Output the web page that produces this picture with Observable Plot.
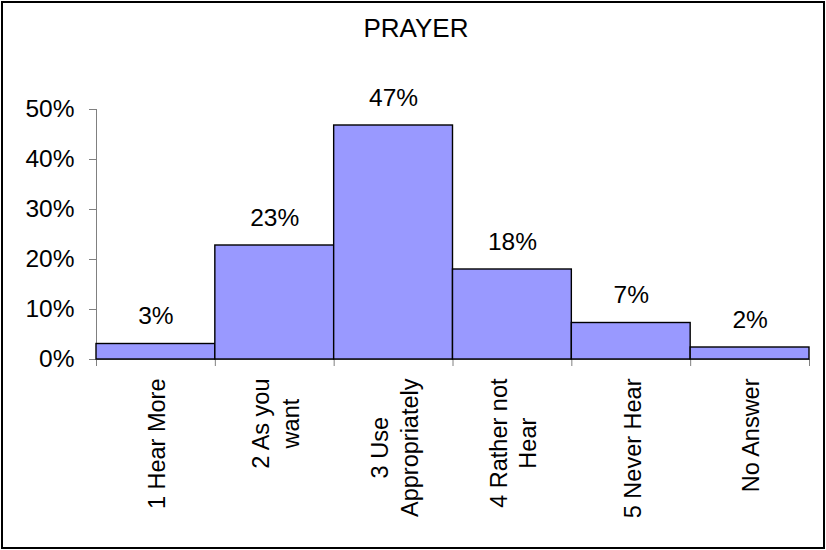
<!DOCTYPE html>
<html><head><meta charset="utf-8">
<script src="https://cdn.jsdelivr.net/npm/d3@7"></script>
<script src="https://cdn.jsdelivr.net/npm/@observablehq/plot@0.6"></script>
<style>
html,body{margin:0;padding:0;background:#fff;}
#wrap{position:relative;width:826px;height:550px;font-family:"Liberation Sans",Arial,sans-serif;overflow:hidden;}
#border{position:absolute;left:1px;top:1px;width:820px;height:544px;border:2px solid #000;pointer-events:none;}
#title{position:absolute;left:0;top:14px;width:832px;text-align:center;font-size:26px;line-height:1.15;color:#000;}
</style></head><body>
<div id="wrap"><div id="chart"></div><div id="title">PRAYER</div><div id="border"></div></div>
<script>
const categories = ["1 Hear More", "2 As you\nwant", "3 Use\nAppropriately", "4 Rather not\nHear", "5 Never Hear", "No Answer"];
const values = [0.031, 0.228, 0.468, 0.180, 0.073, 0.024];
const valueLabels = ["3%", "23%", "47%", "18%", "7%", "2%"];
const yTicks = [0, 0.1, 0.2, 0.3, 0.4, 0.5];
const yTickLabels = ["0%", "10%", "20%", "30%", "40%", "50%"];

const data = categories.map((c, i) => ({i, category: c, value: values[i], label: valueLabels[i]}));
const boundaries = d3.range(categories.length + 1);

const chart = Plot.plot({
  width: 826, height: 550,
  marginLeft: 96, marginRight: 17, marginTop: 109, marginBottom: 191,
  style: {fontFamily: "'Liberation Sans', Arial, sans-serif", fontSize: "24px", background: "transparent", color: "#000"},
  x: {type: "linear", domain: [0, categories.length], label: null},
  y: {domain: [0, 0.5], label: null},
  marks: [
    Plot.axisY({ticks: yTicks, tickFormat: (d) => yTickLabels[yTicks.indexOf(d)], tickSize: 7, tickPadding: 15, stroke: "#808080", fill: "#000", fontSize: 24.5, label: null}),
    Plot.axisX({ticks: boundaries, tickFormat: () => "", tickSize: 7, stroke: "#808080", label: null}),
    Plot.frame({anchor: "left", stroke: "#808080"}),
    Plot.ruleY([0], {stroke: "#808080"}),
    Plot.rectY(data, {x1: "i", x2: (d) => d.i + 1, y: "value", fill: "#9999FF", stroke: "#000", strokeWidth: 1.4}),
    Plot.text(data, {x: (d) => d.i + 0.5, y: "value", text: "label", dy: -20, lineAnchor: "bottom", fontSize: 24.5, fill: "#000"}),
    Plot.text(data, {x: (d) => d.i + 0.5, y: 0, text: "category", rotate: -90, textAnchor: "end", lineAnchor: "middle", dy: 19, fontSize: 23.5, lineHeight: 1.25, fill: "#000", className: "cat-label"})
  ]
});
document.getElementById("chart").append(chart);

// center the wrapped lines of each rotated category label on each other
chart.querySelectorAll(".cat-label text").forEach((t) => {
  const tsp = t.querySelectorAll("tspan");
  if (tsp.length < 2) return;
  const max = Math.max(...Array.from(tsp, (s) => s.getComputedTextLength()));
  t.setAttribute("text-anchor", "middle");
  tsp.forEach((s) => s.setAttribute("x", -max / 2));
});
</script>
</body></html>
